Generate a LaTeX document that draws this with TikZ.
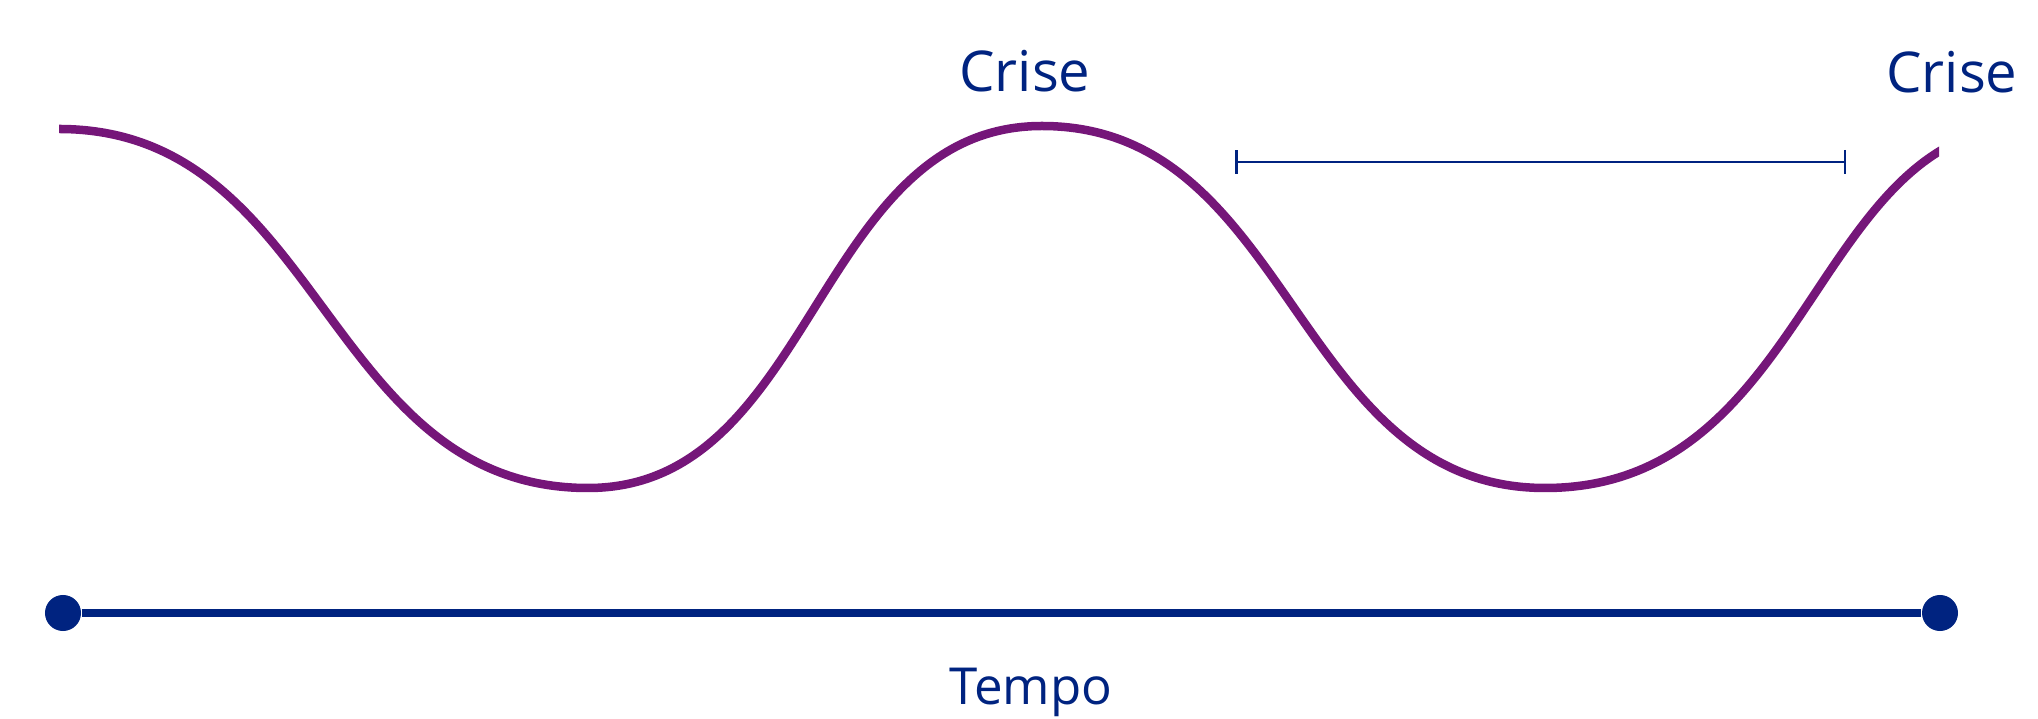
\documentclass[tikz,border=0pt]{standalone}
\usepackage{fontspec}
\setmainfont{Open Sans}
\usepackage{tikz}
\usetikzlibrary{
  arrows.meta,%
  % enables relative placement
  positioning,%
  calc
}
\definecolor{cyclepurple}{RGB}{117,22,121}
\definecolor{cyclenavy}{RGB}{0,35,128}
\tikzset{>=latex}
\tikzset{font=\normalsize}
\tikzset{wave/.style={line width=0.85mm, cyclepurple},
  timedot/.style={circle, fill=cyclenavy, inner sep=0pt, minimum size=3.6mm},
  lbl/.style={text=cyclenavy, inner sep=0pt, anchor=base,
    font=\fontsize{16}{19}\selectfont}}

\begin{document}
\begin{tikzpicture}[x=0.01cm, y=-0.01cm]
          \useasboundingbox (0,0) rectangle (2038,719);
          \coordinate (p0) at (59,129);
          \coordinate (v1) at (588,488);
          \coordinate (p1) at (1042,126);
          \coordinate (v2) at (1545,488);
          \coordinate (p2) at (2030,126);
          \begin{scope}
            \clip (59,0) rectangle (1939,719);
            \draw[wave] (p0) .. controls +(264,0) and +(-264,0) .. (v1)
              .. controls +(227,0) and +(-227,0) .. (p1)
              .. controls +(251,0) and +(-251,0) .. (v2)
              .. controls +(267,0) and +(-218,0) .. (p2);
          \end{scope}
          \node[lbl] (crise1) at (1025,92) {Crise};
          \node[lbl] (crise2) at (1952,93) {Crise};
          % interval between the crises
          \coordinate (b0) at (1235,162);
          \coordinate (b1) at (1846,162);
          \draw[cyclenavy, line width=0.25mm, {Bar[width=2.4mm]}-{Bar[width=2.4mm]}] (b0) -- (b1);
          % time axis
          \node[timedot] (t0) at (63,613) {};
          \node[timedot] (t1) at (1940,613) {};
          \draw[cyclenavy, line width=0.75mm] (t0) -- (t1);
          \node[lbl, font=\fontsize{14.5}{17}\selectfont] (tempo) at (1031,705) {Tempo};
        \end{tikzpicture}
\end{document}
